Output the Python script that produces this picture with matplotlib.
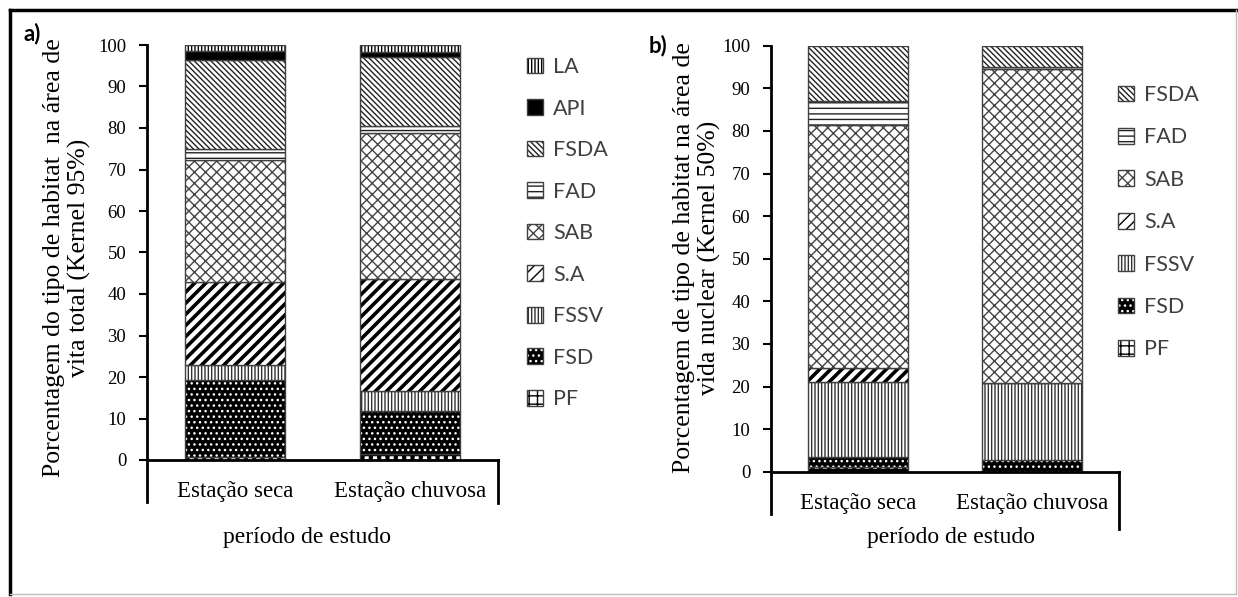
import numpy as np
import matplotlib.pyplot as plt
from matplotlib.patches import Patch
from matplotlib.lines import Line2D

categories = ['Estação seca', 'Estação chuvosa']

# painel a) Kernel 95%, de baixo para cima
names_95 = ['PF', 'FSD', 'FSSV', 'S.A', 'SAB', 'FAD', 'FSDA', 'API', 'LA']
pf_95 = [0.8, 1.5]
fsd_95 = [18.4, 10.3]
fssv_95 = [3.8, 4.8]
sa_95 = [19.9, 27.1]
sab_95 = [29.5, 35.0]
fad_95 = [2.5, 1.7]
fsda_95 = [21.6, 16.8]
api_95 = [2.1, 1.0]
la_95 = [1.4, 1.8]

# painel b) Kernel 50%
names_50 = ['PF', 'FSD', 'FSSV', 'S.A', 'SAB', 'FAD', 'FSDA']
pf_50 = [1.0, 0.0]
fsd_50 = [2.4, 2.8]
fssv_50 = [17.7, 18.0]
sa_50 = [3.2, 0.0]
sab_50 = [57.1, 73.7]
fad_50 = [5.6, 0.5]
fsda_50 = [13.0, 5.0]

yticks = list(range(0, 101, 10))

series_95 = {'PF': pf_95, 'FSD': fsd_95, 'FSSV': fssv_95, 'S.A': sa_95, 'SAB': sab_95,
             'FAD': fad_95, 'FSDA': fsda_95, 'API': api_95, 'LA': la_95}
series_50 = {'PF': pf_50, 'FSD': fsd_50, 'FSSV': fssv_50, 'S.A': sa_50, 'SAB': sab_50,
             'FAD': fad_50, 'FSDA': fsda_50}

# face, hatch colour, hatch, hatch linewidth
styles = {
    'PF': ('white', 'black', '++', 3.0),
    'FSD': ('black', 'white', '...', 1.0),
    'FSSV': ('white', '#333333', '|||||', 1.0),
    'S.A': ('white', 'black', '///', 2.6),
    'SAB': ('white', '#444444', 'xxx', 1.0),
    'FAD': ('white', '#222222', '---', 1.0),
    'FSDA': ('white', '#222222', '\\' * 6, 1.0),
    'API': ('black', 'black', '', 1.0),
    'LA': ('white', 'black', '|||||', 1.0),
}
OUTLINE = '#404040'
SERIF = 'Liberation Serif'


def make_handle(name):
    fc, hc, hatch, hlw = styles[name]
    with plt.rc_context({'hatch.linewidth': hlw}):
        p = Patch(facecolor=fc, edgecolor=hc, hatch=hatch, linewidth=0)
    if hasattr(p, 'set_hatch_linewidth'):
        p.set_hatch_linewidth(hlw)
    return (p, Patch(fill=False, edgecolor=OUTLINE, linewidth=1.0))


def draw_panel(ax, series, names, width):
    x = np.arange(len(categories))
    bottom = np.zeros(len(categories))
    for name in names:
        vals = np.array(series[name], dtype=float)
        fc, hc, hatch, hlw = styles[name]
        with plt.rc_context({'hatch.linewidth': hlw}):
            bars = ax.bar(x, vals, width, bottom=bottom, color=fc, edgecolor=hc,
                          hatch=hatch, linewidth=0)
        for b in bars:
            if hasattr(b, 'set_hatch_linewidth'):
                b.set_hatch_linewidth(hlw)
        ax.bar(x, vals, width, bottom=bottom, fill=False, edgecolor=OUTLINE, linewidth=1.0)
        bottom += vals
    ax.set_xlim(-0.5, 1.5)
    ax.set_ylim(0, 100)
    ax.set_yticks(yticks)
    ax.set_xticks(x)
    ax.set_xticklabels(categories, fontsize=16.5, family=SERIF)
    ax.tick_params(axis='x', length=0, pad=15)
    ax.tick_params(axis='y', length=6, width=1.5, pad=9, labelsize=13.5)
    for lab in ax.get_yticklabels():
        lab.set_family(SERIF)
    for s in ['top', 'right', 'left']:
        ax.spines[s].set_visible(False)
    ax.spines['bottom'].set_linewidth(2)


fig = plt.figure(figsize=(12.38, 5.97), dpi=100)

ax1 = fig.add_axes([147 / 1238, 1 - 460 / 597, 351 / 1238, 415 / 597])
draw_panel(ax1, series_95, names_95, 0.57)
ax1.add_line(Line2D([0, 0], [1, -0.1], transform=ax1.transAxes, color='black', lw=2, clip_on=False))
ax1.add_line(Line2D([1, 1], [0, -0.104], transform=ax1.transAxes, color='black', lw=2, clip_on=False))

ax2 = fig.add_axes([771 / 1238, 1 - 471.7 / 597, 348 / 1238, 426 / 597])
draw_panel(ax2, series_50, names_50, 0.575)
ax2.add_line(Line2D([0, 0], [1, -0.099], transform=ax2.transAxes, color='black', lw=2, clip_on=False))
ax2.add_line(Line2D([1, 1], [0, -0.134], transform=ax2.transAxes, color='black', lw=2, clip_on=False))

# titulos dos eixos
fig.text(67 / 1238, 1 - 258 / 597, 'Porcentagem do tipo de habitat  na área de\nvita total (Kernel 95%)',
         rotation=90, ha='center', va='center', multialignment='center', fontsize=18.5,
         family=SERIF, linespacing=1.15)
fig.text(697 / 1238, 1 - 258 / 597, 'Porcentagem de tipo de habitat na área de\nvida nuclear (Kernel 50%)',
         rotation=90, ha='center', va='center', multialignment='center', fontsize=18.5,
         family=SERIF, linespacing=1.15)
fig.text(307 / 1238, 1 - 538 / 597, 'período de estudo', ha='center', va='center',
         fontsize=17, family=SERIF)
fig.text(951 / 1238, 1 - 538 / 597, 'período de estudo', ha='center', va='center',
         fontsize=17, family=SERIF)
fig.text(32 / 1238, 1 - 34 / 597, 'a)', ha='center', va='center', fontsize=16,
         fontweight='bold', family='Lato')
fig.text(658 / 1238, 1 - 46 / 597, 'b)', ha='center', va='center', fontsize=16,
         fontweight='bold', family='Lato')

# legendas
leg_kw = dict(loc='upper left', frameon=False, handlelength=0.75, handleheight=0.75,
              handletextpad=0.45, borderpad=0, borderaxespad=0,
              prop={'family': 'Lato', 'size': 15.5}, labelcolor='#404040')
order_95 = names_95[::-1]
fig.legend([make_handle(n) for n in order_95], order_95, labelspacing=1.0,
           bbox_to_anchor=(527 / 1238, 1 - 57 / 597), **leg_kw)
order_50 = names_50[::-1]
fig.legend([make_handle(n) for n in order_50], order_50, labelspacing=1.04,
           bbox_to_anchor=(1118 / 1238, 1 - 85 / 597), **leg_kw)

# moldura
fig.add_artist(Line2D([10 / 1238, 10 / 1238], [1 - 10 / 597, 1 - 594 / 597], color='black', lw=2.5))
fig.add_artist(Line2D([10 / 1238, 1236 / 1238], [1 - 10 / 597, 1 - 10 / 597], color='black', lw=2.5))
fig.add_artist(Line2D([1236 / 1238, 1236 / 1238], [1 - 10 / 597, 1 - 594 / 597], color='#bbbbbb', lw=1))
fig.add_artist(Line2D([10 / 1238, 1236 / 1238], [1 - 594 / 597, 1 - 594 / 597], color='#bbbbbb', lw=1))

fig.savefig('out.png', dpi=100)
